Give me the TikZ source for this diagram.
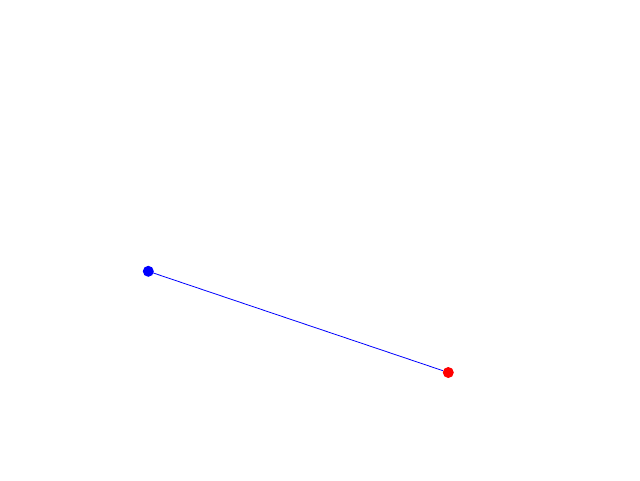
\documentclass[tikz,border=0pt]{standalone}
\begin{document}
\begin{tikzpicture}[x=1pt,y=-1pt,
  dot/.style={circle,inner sep=0pt,minimum size=11pt},
  link/.style={blue,line width=0.8pt}]
\useasboundingbox (0,0) rectangle (640,480);
\node[dot,fill=blue] (a) at (148.3,271.3) {};
\node[dot,fill=red] (b) at (448.3,372.5) {};
\draw[link] (a.center) -- (b);
\end{tikzpicture}
\end{document}
